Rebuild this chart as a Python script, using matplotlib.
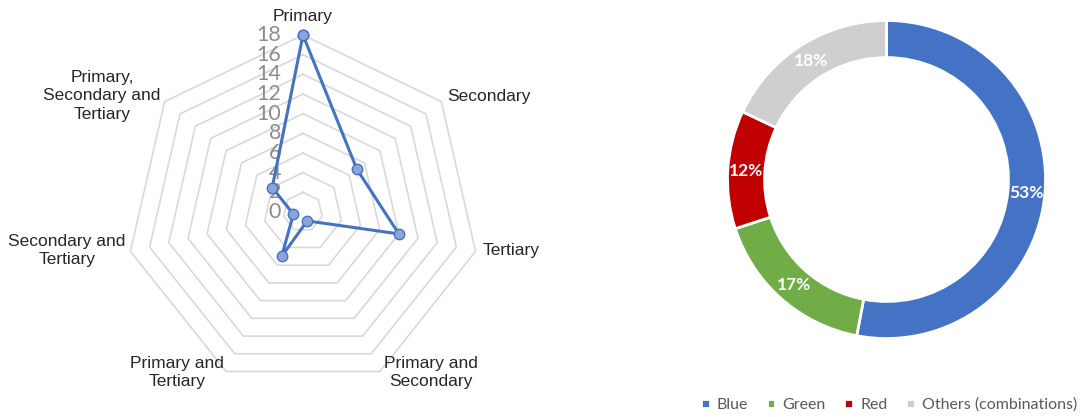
import matplotlib.pyplot as plt
import numpy as np

# radar data
categories = ['Primary', 'Secondary', 'Tertiary', 'Primary and\nSecondary',
              'Primary and\nTertiary', 'Secondary and\nTertiary',
              'Primary,\nSecondary and\nTertiary']
counts = [18, 7, 10, 1, 5, 1, 4]
rings = [2, 4, 6, 8, 10, 12, 14, 16, 18]
tick_labels = [0, 2, 4, 6, 8, 10, 12, 14, 16, 18]

# donut data
colour_names = ['Blue', 'Green', 'Red', 'Others (combinations)']
shares = [53, 17, 12, 18]
colours = ['#4472C4', '#70AD47', '#C00000', '#D0CECE']

# label placement around the radar (pixel offsets from the outer vertex)
label_layout = [((0, 19), 'center'), ((6, 5), 'left'), ((7, 1), 'left'),
                ((4, -1), 'left'), ((-2, -1), 'right'), ((-5, 1), 'right'),
                ((-4, 6), 'right')]

fig = plt.figure(figsize=(10.85, 4.17), dpi=100)

# ---- radar chart ----
ax = fig.add_axes([0.1161, 0.0671, 0.3263, 0.8489], projection='polar')
ax.set_theta_zero_location('N')
ax.set_theta_direction(-1)
ax.set_ylim(0, 18)
ax.set_xticks([])
ax.set_yticks([])
ax.grid(False)
ax.spines['polar'].set_visible(False)
ax.patch.set_alpha(0)

n = len(categories)
angles = np.linspace(0, 2 * np.pi, n, endpoint=False)
closed = np.append(angles, angles[0])

for r in rings:
    ax.plot(closed, [r] * (n + 1), color='#D9D9D9', lw=1.2, zorder=1, clip_on=False)

for t in tick_labels:
    ax.annotate(str(t), (0, t), xytext=(-22, 0), textcoords='offset pixels',
                ha='right', va='center', fontsize=15.5, color='#8C8C8C',
                family='Lato', zorder=2)

vals = counts + [counts[0]]
ax.plot(closed, vals, color='#4472C4', lw=2.2, marker='o', markersize=7.5,
        markerfacecolor='#8AA6D9', markeredgecolor='#4472C4', markeredgewidth=1.0,
        zorder=3, clip_on=False)

for a, lab, (off, ha) in zip(angles, categories, label_layout):
    ax.annotate(lab, (a, 18), xytext=off, textcoords='offset pixels',
                ha=ha, va='center', multialignment='center', fontsize=12.5,
                color='#262626', family='Liberation Sans', linespacing=1.3)

# ---- donut chart ----
ax2 = fig.add_axes([0.6705, 0.1882, 0.2931, 0.7626])
wedges, texts, autotexts = ax2.pie(
    shares, colors=colours, startangle=90, counterclock=False,
    autopct=lambda p: f'{p:.0f}%', pctdistance=0.883,
    wedgeprops=dict(width=0.233, edgecolor='white', linewidth=2))
for t in autotexts:
    t.set_color('white')
    t.set_fontweight('bold')
    t.set_fontsize(12.5)
    t.set_family('Lato')
ax2.set_xlim(-1, 1)
ax2.set_ylim(-1, 1)
ax2.set_aspect('equal')

fig.legend(wedges, colour_names, loc='center', bbox_to_anchor=(889 / 1085, 1 - 405 / 417),
           ncol=4, frameon=False, handlelength=0.55, handleheight=0.55,
           handletextpad=0.45, columnspacing=1.15,
           prop={'family': 'Lato', 'size': 11.5}, labelcolor='#595959')

fig.savefig('out.png', dpi=100)
